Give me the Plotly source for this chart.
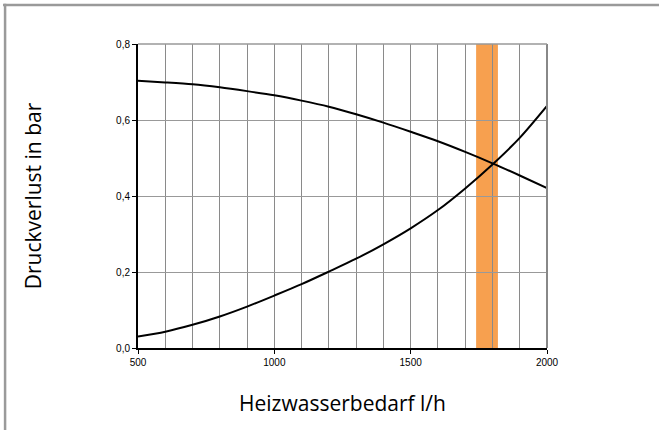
import plotly.graph_objects as go

# Data
flow = [500, 600, 700, 800, 900, 1000, 1100, 1200, 1300, 1400, 1500, 1600, 1700, 1800, 1900, 2000]
pump_curve = [0.703, 0.699, 0.694, 0.686, 0.676, 0.665, 0.651, 0.635, 0.615, 0.593, 0.569, 0.544, 0.516, 0.486, 0.454, 0.421]
system_curve = [0.030, 0.043, 0.061, 0.083, 0.109, 0.138, 0.168, 0.201, 0.235, 0.273, 0.315, 0.363, 0.420, 0.483, 0.553, 0.637]
band_range = [1740, 1820]
x_ticks = [500, 1000, 1500, 2000]
y_ticks = [0.0, 0.2, 0.4, 0.6, 0.8]

fig = go.Figure()
for ys in (pump_curve, system_curve):
    fig.add_trace(go.Scatter(x=flow, y=ys, mode="lines",
                             line=dict(color="black", width=2, shape="spline", smoothing=0.8),
                             showlegend=False, hoverinfo="skip"))

fig.add_shape(type="rect", xref="x", yref="y", x0=band_range[0], x1=band_range[1],
              y0=0, y1=0.8, fillcolor="#F7A04F", line=dict(width=0), layer="below")

# right and top borders of plot area
fig.add_shape(type="line", xref="paper", yref="paper", x0=1, x1=1, y0=0, y1=1,
              line=dict(color="#888888", width=2))
fig.add_shape(type="line", xref="paper", yref="paper", x0=0, x1=1, y0=1, y1=1,
              line=dict(color="#999999", width=1.5))

# outer frame (top and left)
fig.add_shape(type="line", xref="paper", yref="paper", x0=-0.33, x1=1.4, y0=1.128, y1=1.128,
              line=dict(color="#9a9a9a", width=2.5))
fig.add_shape(type="line", xref="paper", yref="paper", x0=-0.325, x1=-0.325, y0=-0.5, y1=1.132,
              line=dict(color="#9a9a9a", width=2.5))

fig.update_layout(
    width=659, height=430,
    margin=dict(l=138, r=112, t=44, b=82),
    paper_bgcolor="white", plot_bgcolor="white",
    separators=",.",
    font=dict(family="Liberation Sans, Arial, sans-serif", color="black"),
    xaxis=dict(
        range=[500, 2000], tickvals=x_ticks, tickformat="d",
        showgrid=True, gridcolor="#8a8a8a", gridwidth=1,
        minor=dict(dtick=100, showgrid=True, gridcolor="#8a8a8a", gridwidth=1, ticks=""),
        showline=True, linecolor="black", linewidth=1.5,
        ticks="outside", ticklen=4, tickcolor="black", tickwidth=1,
        tickfont=dict(size=10), zeroline=False,
        title=dict(text="Heizwasserbedarf l/h", font=dict(family="Open Sans, Noto Sans, sans-serif", size=21), standoff=30),
    ),
    yaxis=dict(
        range=[0, 0.8], tickvals=y_ticks, tickformat=".1f",
        showgrid=True, gridcolor="#999999", gridwidth=1,
        showline=True, linecolor="black", linewidth=2,
        ticks="outside", ticklen=4, tickcolor="black", tickwidth=1,
        tickfont=dict(size=10), zeroline=False,
        title=dict(text="Druckverlust in bar", font=dict(family="Open Sans, Noto Sans, sans-serif", size=21), standoff=69),
    ),
)

fig.write_html("out.html", config={"displayModeBar": False},
               post_script="document.body.style.margin='0';")
